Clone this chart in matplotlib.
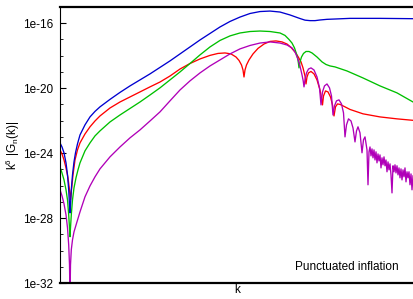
import numpy as np
import matplotlib
matplotlib.use('Agg')
import matplotlib.pyplot as plt
from matplotlib.ticker import FixedLocator, NullFormatter

plt.rcParams['font.family'] = ['Liberation Sans', 'DejaVu Sans']
plt.rcParams['mathtext.fontset'] = 'custom'
plt.rcParams['mathtext.rm'] = 'Liberation Sans'

# (log10 k, log10 k^6|G_n(k)|)
blue = [(-6.00, -23.37), (-5.96, -23.62), (-5.92, -23.98), (-5.88, -24.60), (-5.85, -25.34),
        (-5.826, -26.26), (-5.81, -27.18), (-5.80, -27.68), (-5.79, -27.18), (-5.774, -26.26),
        (-5.75, -25.34), (-5.72, -24.54), (-5.69, -23.98), (-5.65, -23.43), (-5.60, -22.88),
        (-5.50, -22.26), (-5.40, -21.77), (-5.30, -21.43), (-5.20, -21.15), (-5.00, -20.69),
        (-4.80, -20.26), (-4.60, -19.86), (-4.40, -19.49), (-4.20, -19.12), (-4.00, -18.72),
        (-3.80, -18.32), (-3.60, -17.89), (-3.40, -17.46), (-3.20, -17.03), (-3.00, -16.63),
        (-2.80, -16.23), (-2.60, -15.89), (-2.40, -15.62), (-2.20, -15.40), (-2.00, -15.28),
        (-1.80, -15.25), (-1.60, -15.31), (-1.40, -15.49), (-1.20, -15.71), (-1.10, -15.81),
        (-1.00, -15.84), (-0.90, -15.84), (-0.80, -15.80), (-0.66, -15.76), (-0.50, -15.74),
        (-0.20, -15.70), (0.40, -15.70), (1.06, -15.72)]

red = [(-6.00, -23.80), (-5.96, -24.05), (-5.92, -24.42), (-5.88, -24.91), (-5.84, -25.52),
       (-5.81, -26.26), (-5.79, -26.88), (-5.77, -26.26), (-5.74, -25.34), (-5.70, -24.42),
       (-5.65, -23.80), (-5.60, -23.37), (-5.50, -22.82), (-5.40, -22.38), (-5.30, -22.02),
       (-5.20, -21.71), (-5.00, -21.22), (-4.80, -20.85), (-4.60, -20.54), (-4.40, -20.23),
       (-4.20, -19.92), (-4.00, -19.62), (-3.80, -19.25), (-3.60, -18.82), (-3.40, -18.48),
       (-3.20, -18.20), (-3.00, -17.98), (-2.84, -17.86), (-2.70, -17.83), (-2.58, -17.89),
       (-2.48, -18.08), (-2.42, -18.29), (-2.37, -18.57), (-2.34, -18.88), (-2.32, -19.31),
       (-2.30, -18.88), (-2.27, -18.57), (-2.22, -18.26), (-2.14, -17.89), (-2.04, -17.55),
       (-1.92, -17.28), (-1.80, -17.12), (-1.68, -17.09), (-1.56, -17.15), (-1.46, -17.28),
       (-1.38, -17.49), (-1.30, -17.77), (-1.24, -18.05), (-1.18, -18.38), (-1.14, -18.75),
       (-1.10, -19.25), (-1.08, -19.74), (-1.06, -19.31), (-1.03, -19.06), (-0.98, -18.97),
       (-0.92, -19.12), (-0.86, -19.49), (-0.80, -20.11), (-0.77, -20.60), (-0.75, -21.03),
       (-0.73, -20.48), (-0.69, -20.17), (-0.64, -20.23), (-0.59, -20.54), (-0.55, -21.03),
       (-0.52, -21.71), (-0.49, -21.15), (-0.45, -20.97), (-0.40, -21.00), (-0.32, -21.12),
       (-0.20, -21.31), (0.06, -21.58), (0.40, -21.77), (0.74, -21.89), (1.06, -21.98)]

green = [(-6.00, -24.85), (-5.96, -25.22), (-5.92, -25.65), (-5.88, -26.26), (-5.85, -26.88),
         (-5.826, -27.80), (-5.81, -28.60), (-5.80, -29.15), (-5.79, -28.60), (-5.774, -27.80),
         (-5.75, -26.88), (-5.72, -26.14), (-5.68, -25.52), (-5.64, -25.03), (-5.60, -24.60),
         (-5.50, -23.86), (-5.40, -23.37), (-5.30, -22.94), (-5.20, -22.63), (-5.00, -22.08),
         (-4.80, -21.65), (-4.60, -21.25), (-4.40, -20.85), (-4.20, -20.42), (-4.00, -19.98),
         (-3.80, -19.49), (-3.60, -19.00), (-3.40, -18.48), (-3.20, -17.95), (-3.00, -17.46),
         (-2.80, -17.06), (-2.60, -16.78), (-2.40, -16.60), (-2.20, -16.51), (-2.00, -16.48),
         (-1.80, -16.51), (-1.60, -16.60), (-1.50, -16.75), (-1.42, -17.00), (-1.36, -17.22),
         (-1.31, -17.52), (-1.27, -17.89), (-1.24, -18.26), (-1.22, -18.75), (-1.20, -18.38),
         (-1.17, -18.08), (-1.13, -17.86), (-1.08, -17.74), (-1.02, -17.74), (-0.96, -17.83),
         (-0.86, -18.08), (-0.76, -18.38), (-0.68, -18.54), (-0.60, -18.63), (-0.50, -18.69),
         (-0.26, -18.94), (0.06, -19.37), (0.40, -19.86), (0.74, -20.29), (1.06, -20.85)]

purple = [(-6.00, -26.26), (-5.96, -26.63), (-5.92, -27.12), (-5.88, -27.80), (-5.85, -28.60),
          (-5.826, -29.65), (-5.81, -30.88), (-5.80, -33.00), (-5.79, -30.88), (-5.774, -29.95),
          (-5.75, -29.34), (-5.72, -28.85), (-5.66, -28.23), (-5.60, -27.62), (-5.50, -26.69),
          (-5.40, -26.02), (-5.30, -25.46), (-5.20, -24.97), (-5.00, -24.23), (-4.80, -23.62),
          (-4.60, -23.06), (-4.40, -22.57), (-4.20, -22.02), (-4.00, -21.46), (-3.80, -20.78),
          (-3.60, -20.11), (-3.40, -19.55), (-3.20, -19.06), (-3.00, -18.63), (-2.80, -18.26),
          (-2.60, -17.89), (-2.40, -17.58), (-2.20, -17.37), (-2.00, -17.22), (-1.80, -17.15),
          (-1.60, -17.22), (-1.46, -17.34), (-1.36, -17.52), (-1.30, -17.77), (-1.25, -18.14),
          (-1.20, -18.63), (-1.16, -19.18), (-1.136, -19.55), (-1.12, -19.92), (-1.10, -19.49),
          (-1.07, -19.06), (-1.03, -18.82), (-0.98, -18.75), (-0.92, -18.88), (-0.86, -19.31),
          (-0.81, -19.98), (-0.78, -21.03), (-0.75, -20.23), (-0.71, -19.86), (-0.66, -19.74),
          (-0.61, -19.98), (-0.57, -20.48), (-0.54, -21.65), (-0.51, -21.09), (-0.47, -20.78),
          (-0.42, -20.72), (-0.37, -20.97), (-0.33, -21.52), (-0.30, -23.00), (-0.27, -22.26),
          (-0.23, -21.89), (-0.18, -22.02), (-0.14, -22.45), (-0.10, -23.31), (-0.07, -22.63),
          (-0.04, -22.38), (0.00, -22.75), (0.04, -23.98), (0.07, -23.18), (0.10, -23.00),
          (0.14, -23.80), (0.16, -25.95), (0.18, -23.92), (0.20, -23.62), (0.22, -24.17),
          (0.24, -23.74), (0.26, -24.29), (0.28, -23.80), (0.30, -24.42), (0.32, -23.92),
          (0.34, -24.60), (0.36, -24.05), (0.38, -24.48), (0.40, -24.11), (0.42, -24.91),
          (0.44, -24.29), (0.46, -24.72), (0.48, -24.23), (0.50, -24.78), (0.52, -24.42),
          (0.54, -25.15), (0.56, -24.54), (0.58, -25.03), (0.60, -24.66), (0.62, -25.34),
          (0.64, -26.45), (0.66, -24.78), (0.68, -25.15), (0.70, -24.72), (0.72, -25.22),
          (0.74, -24.78), (0.76, -25.34), (0.78, -24.91), (0.80, -25.52), (0.82, -24.97),
          (0.84, -25.65), (0.86, -25.03), (0.88, -25.46), (0.90, -24.91), (0.92, -25.77),
          (0.94, -25.15), (0.96, -25.52), (0.98, -25.15), (1.00, -25.95), (1.02, -25.28),
          (1.04, -26.26), (1.06, -25.40)]

curves = [(red, '#ff0000'), (green, '#00c000'), (blue, '#0000d0'), (purple, '#b000b8')]

yticks = [1e-32, 1e-28, 1e-24, 1e-20, 1e-16]
ylabels = ['1e-32', '1e-28', '1e-24', '1e-20', '1e-16']

fig = plt.figure(figsize=(4.13, 2.99), dpi=100)
ax = fig.add_axes([60 / 413, 1 - 283 / 299, 355 / 413, 276 / 299])

for pts, c in curves:
    lk, lv = np.array(pts).T
    ax.plot(10.0 ** lk, 10.0 ** lv, color=c, lw=0.95)

ax.set_xscale('log')
ax.set_yscale('log')
ax.set_xlim(1e-6, 10 ** 1.1)
ax.set_ylim(1e-32, 1e-15)

ax.yaxis.set_major_locator(FixedLocator(yticks))
ax.yaxis.set_minor_locator(FixedLocator([10.0 ** e for e in range(-32, -14)]))
ax.yaxis.set_minor_formatter(NullFormatter())
ax.set_yticklabels(ylabels)
ax.tick_params(axis='y', which='both', direction='in', right=False, labelsize=8.5, pad=5)
ax.tick_params(axis='y', which='major', length=4, width=0.8)
ax.tick_params(axis='y', which='minor', length=2.5, width=0.6)
ax.tick_params(axis='x', which='both', bottom=False, top=False, labelbottom=False)

ax.spines['top'].set_linewidth(1.6)
ax.spines['bottom'].set_linewidth(1.6)
ax.spines['left'].set_linewidth(0.8)
ax.spines['right'].set_visible(False)

ax.set_xlabel('k', fontsize=8.5, labelpad=1)
ax.set_ylabel(r'k$\mathregular{^6}$ |G$\mathregular{_n}$(k)|', fontsize=8.5)
ax.yaxis.set_label_coords(-0.107, 0.5)

ax.text(0.955, 0.035, 'Punctuated inflation', transform=ax.transAxes,
        ha='right', va='bottom', fontsize=8.5)

fig.savefig('out.png', dpi=100)
